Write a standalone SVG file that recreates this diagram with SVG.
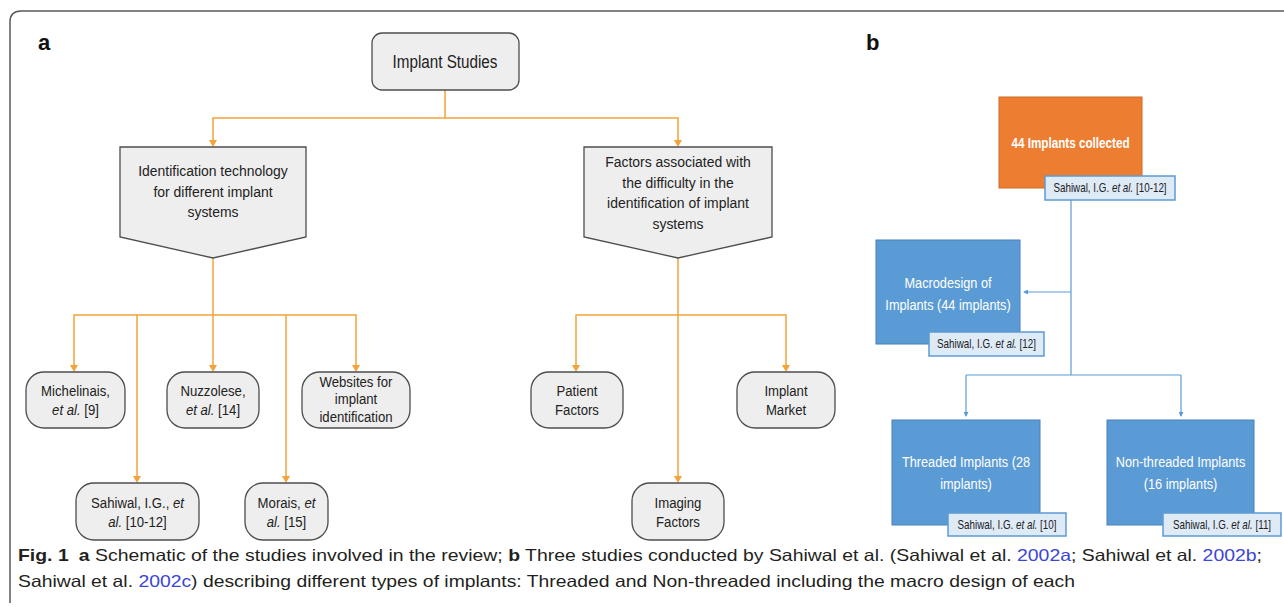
<svg xmlns="http://www.w3.org/2000/svg" width="1284" height="607" viewBox="0 0 1284 607">
<style>
.frame{fill:none;stroke:#5a5a5a;stroke-width:1.5}
.gnode{fill:#eeeeee;stroke:#4d4d4d;stroke-width:1.3}
.oc{fill:none;stroke:#f2a33a;stroke-width:1.5}
.bc{fill:none;stroke:#5b9bd5;stroke-width:1.2}
.nt{font-family:"Liberation Sans",Arial,sans-serif;font-size:15.5px;fill:#222;text-anchor:middle}
.big{font-size:17.5px}
.bt{font-family:"Liberation Sans",Arial,sans-serif;font-size:15px;fill:#ffffff;text-anchor:middle}
.ct{font-family:"Liberation Sans",Arial,sans-serif;font-size:12px;fill:#222;text-anchor:middle}
.orange{fill:#ed7d31;stroke:#d06a22;stroke-width:1}
.blue{fill:#5b9bd5;stroke:#4a80b8;stroke-width:1}
.cite{fill:#deebf7;stroke:#5b9bd5;stroke-width:1.5}
.lbl{font-family:"Liberation Sans",Arial,sans-serif;font-size:22px;font-weight:bold;fill:#111}
.cap{font-family:"Liberation Sans",Arial,sans-serif;font-size:16.5px;fill:#231f20}
.lnk{fill:#3a46d6}
</style>
<defs>
<marker id="ba" markerWidth="5" markerHeight="5" refX="4" refY="2.5" orient="auto" markerUnits="userSpaceOnUse" viewBox="0 0 5 5">
<path d="M0,0 L5,2.5 L0,5 Z" fill="#5b9bd5"/>
</marker>
</defs>
<rect width="1284" height="607" fill="#ffffff"/>
<path class="frame" d="M10,603 V22 Q10,11 21,11 H1284"/>
<text class="lbl" x="38" y="50">a</text>
<text class="lbl" x="866" y="50">b</text>

<g id="connectors">
<path class="oc" d="M445,90 V118 H213 V140"/>
<path class="oc" d="M445,118 H678 V140"/>
<path class="oc" d="M213,258 V315"/>
<path class="oc" d="M213,315 H74 V366"/>
<path class="oc" d="M213,315 V366"/>
<path class="oc" d="M213,315 H356 V366"/>
<path class="oc" d="M137,315 V477"/>
<path class="oc" d="M286,315 V477"/>
<path class="oc" d="M678,258 V477"/>
<path class="oc" d="M678,315 H576 V366"/>
<path class="oc" d="M678,315 H786 V366"/>
<g fill="#f2a33a">
<path d="M209,140 L217,140 L213,147 Z"/>
<path d="M674,140 L682,140 L678,147 Z"/>
<path d="M70,365 L78,365 L74,372 Z"/>
<path d="M209,365 L217,365 L213,372 Z"/>
<path d="M352,365 L360,365 L356,372 Z"/>
<path d="M133,476 L141,476 L137,483 Z"/>
<path d="M282,476 L290,476 L286,483 Z"/>
<path d="M674,476 L682,476 L678,483 Z"/>
<path d="M572,365 L580,365 L576,372 Z"/>
<path d="M782,365 L790,365 L786,372 Z"/>
</g>
<path class="bc" d="M1071,200 V375"/>
<path class="bc" d="M1071,292 H1024" marker-end="url(#ba)"/>
<path class="bc" d="M966,375 H1181"/>
<path class="bc" d="M966,375 V416" marker-end="url(#ba)"/>
<path class="bc" d="M1181,375 V416" marker-end="url(#ba)"/>
</g>

<g id="implant-studies">
<rect class="gnode" x="372" y="33" width="147" height="57" rx="10"/>
<text class="nt big" transform="translate(445 0) scale(0.87 1)" x="0" y="68">Implant Studies</text>
</g>
<g id="identification-tech">
<path class="gnode" d="M120,147 H306 V237 L213,258 L120,237 Z"/>
<text class="nt" transform="translate(213 0) scale(0.9 1)" x="0" y="176">Identification technology</text>
<text class="nt" transform="translate(213 0) scale(0.9 1)" x="0" y="197">for different implant</text>
<text class="nt" transform="translate(213 0) scale(0.9 1)" x="0" y="217">systems</text>
</g>
<g id="factors-difficulty">
<path class="gnode" d="M584,147 H772 V237 L678,258 L584,237 Z"/>
<text class="nt" transform="translate(678 0) scale(0.9 1)" x="0" y="167">Factors associated with</text>
<text class="nt" transform="translate(678 0) scale(0.9 1)" x="0" y="188">the difficulty in the</text>
<text class="nt" transform="translate(678 0) scale(0.9 1)" x="0" y="208">identification of implant</text>
<text class="nt" transform="translate(678 0) scale(0.9 1)" x="0" y="229">systems</text>
</g>
<g id="michelinais">
<rect class="gnode" x="26" y="372" width="99" height="56" rx="18"/>
<text class="nt" transform="translate(75.5 0) scale(0.85 1)" x="0" y="396">Michelinais,</text>
<text class="nt" transform="translate(75.5 0) scale(0.85 1)" x="0" y="415"><tspan font-style="italic">et al.</tspan> [9]</text>
</g>
<g id="nuzzolese">
<rect class="gnode" x="167" y="372" width="92" height="56" rx="18"/>
<text class="nt" transform="translate(213 0) scale(0.85 1)" x="0" y="396">Nuzzolese,</text>
<text class="nt" transform="translate(213 0) scale(0.85 1)" x="0" y="415"><tspan font-style="italic">et al.</tspan> [14]</text>
</g>
<g id="websites">
<rect class="gnode" x="302" y="372" width="108" height="56" rx="18"/>
<text class="nt" transform="translate(356 0) scale(0.85 1)" x="0" y="387">Websites for</text>
<text class="nt" transform="translate(356 0) scale(0.85 1)" x="0" y="404">implant</text>
<text class="nt" transform="translate(356 0) scale(0.85 1)" x="0" y="422">identification</text>
</g>
<g id="sahiwal">
<rect class="gnode" x="76" y="483" width="123" height="57" rx="18"/>
<text class="nt" transform="translate(137.5 0) scale(0.85 1)" x="0" y="508">Sahiwal, I.G., <tspan font-style="italic">et</tspan></text>
<text class="nt" transform="translate(137.5 0) scale(0.85 1)" x="0" y="527"><tspan font-style="italic">al.</tspan> [10-12]</text>
</g>
<g id="morais">
<rect class="gnode" x="245" y="483" width="83" height="57" rx="18"/>
<text class="nt" transform="translate(286.5 0) scale(0.85 1)" x="0" y="508">Morais, <tspan font-style="italic">et</tspan></text>
<text class="nt" transform="translate(286.5 0) scale(0.85 1)" x="0" y="527"><tspan font-style="italic">al.</tspan> [15]</text>
</g>
<g id="patient-factors">
<rect class="gnode" x="531" y="372" width="92" height="56" rx="18"/>
<text class="nt" transform="translate(577 0) scale(0.85 1)" x="0" y="396">Patient</text>
<text class="nt" transform="translate(577 0) scale(0.85 1)" x="0" y="415">Factors</text>
</g>
<g id="implant-market">
<rect class="gnode" x="737" y="372" width="98" height="56" rx="18"/>
<text class="nt" transform="translate(786 0) scale(0.85 1)" x="0" y="396">Implant</text>
<text class="nt" transform="translate(786 0) scale(0.85 1)" x="0" y="415">Market</text>
</g>
<g id="imaging-factors">
<rect class="gnode" x="632" y="483" width="92" height="57" rx="18"/>
<text class="nt" transform="translate(678 0) scale(0.85 1)" x="0" y="508">Imaging</text>
<text class="nt" transform="translate(678 0) scale(0.85 1)" x="0" y="527">Factors</text>
</g>

<g id="implants-collected">
<rect class="orange" x="999" y="97" width="143" height="91"/>
<text class="bt" font-weight="bold" transform="translate(1070.5 0) scale(0.78 1)" x="0" y="148">44 Implants collected</text>
<rect class="cite" x="1045" y="176" width="130" height="24"/>
<text class="ct" transform="translate(1110 0) scale(0.82 1)" x="0" y="192">Sahiwal, I.G. <tspan font-style="italic">et al.</tspan> [10-12]</text>
</g>
<g id="macrodesign">
<rect class="blue" x="876" y="240" width="144" height="104"/>
<text class="bt" transform="translate(948 0) scale(0.85 1)" x="0" y="288">Macrodesign of</text>
<text class="bt" transform="translate(948 0) scale(0.85 1)" x="0" y="310">Implants (44 implants)</text>
<rect class="cite" x="929" y="332" width="115" height="24"/>
<text class="ct" transform="translate(986.5 0) scale(0.82 1)" x="0" y="348">Sahiwal, I.G. <tspan font-style="italic">et al.</tspan> [12]</text>
</g>
<g id="threaded">
<rect class="blue" x="892" y="420" width="148" height="105"/>
<text class="bt" transform="translate(966 0) scale(0.85 1)" x="0" y="467">Threaded Implants (28</text>
<text class="bt" transform="translate(966 0) scale(0.85 1)" x="0" y="489">implants)</text>
<rect class="cite" x="948" y="513" width="118" height="23"/>
<text class="ct" transform="translate(1007 0) scale(0.82 1)" x="0" y="529">Sahiwal, I.G. <tspan font-style="italic">et al.</tspan> [10]</text>
</g>
<g id="non-threaded">
<rect class="blue" x="1107" y="420" width="147" height="105"/>
<text class="bt" transform="translate(1180.5 0) scale(0.85 1)" x="0" y="467">Non-threaded Implants</text>
<text class="bt" transform="translate(1180.5 0) scale(0.85 1)" x="0" y="489">(16 implants)</text>
<rect class="cite" x="1163" y="513" width="118" height="23"/>
<text class="ct" transform="translate(1222 0) scale(0.82 1)" x="0" y="529">Sahiwal, I.G. <tspan font-style="italic">et al.</tspan> [11]</text>
</g>

<g id="caption">
<text class="cap" x="18" y="561" textLength="1244" lengthAdjust="spacingAndGlyphs"><tspan font-weight="bold">Fig. 1</tspan> <tspan font-weight="bold" dx="4">a</tspan> Schematic of the studies involved in the review; <tspan font-weight="bold">b</tspan> Three studies conducted by Sahiwal et al. (Sahiwal et al. <tspan class="lnk">2002a</tspan>; Sahiwal et al. <tspan class="lnk">2002b</tspan>;</text>
<text class="cap" x="18" y="587" textLength="1057" lengthAdjust="spacingAndGlyphs">Sahiwal et al. <tspan class="lnk">2002c</tspan>) describing different types of implants: Threaded and Non-threaded including the macro design of each</text>
</g>
</svg>
